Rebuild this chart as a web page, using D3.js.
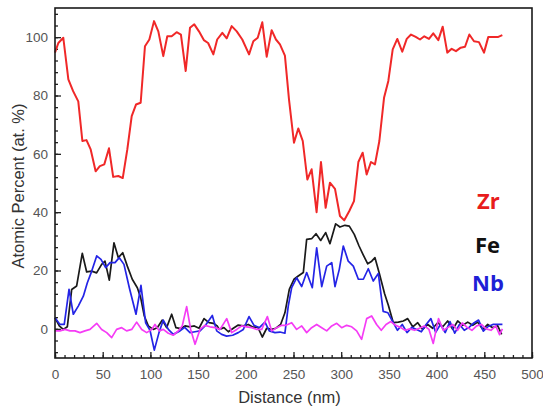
<!DOCTYPE html>
<html>
<head>
<meta charset="utf-8">
<script src="https://cdn.jsdelivr.net/npm/d3@7"></script>
<style>
  body { margin: 0; background: #fff; }
  svg { display: block; }
</style>
</head>
<body>
<div id="chart"></div>
<script>
// values (distance in nm, atomic percent)
var zrDist = [0,3.5,8.7,14,19,24.4,28.7,33,37.4,42.6,47,51.7,56.6,61,66.4,71,75.8,80.4,84.9,89.8,94.3,98.9,103.8,108.3,113.5,117.7,122.3,127.5,132,137,141.5,146,150.9,156,160.5,166,170,175.4,180,185.2,190.5,196.3,203.4,207.9,212.5,217.3,221.9,227.1,231.6,235.8,241,245.3,250.5,255,259.7,264.5,269,274.2,278.8,283.7,288.2,293.5,298.7,303.2,308.5,313.4,318,322.5,326.7,331.2,335.4,340,344.9,349.4,354,358.8,364,368.7,373.2,378.1,382.6,387.1,392,396.5,401.8,406.4,411.2,415.8,420.3,425.3,429.8,434.3,439.2,444.4,449.7,454.2,459.5,464.7,468.9];
var zrVal = [94.7,98,99.8,85.5,81.5,78,64.4,64.7,61.5,54,55.8,56.4,61.9,52.1,52.4,51.7,61.5,72.9,76.9,77.5,96.9,99.2,105.5,102,93.5,100.3,100.3,101.7,100.9,88.4,103.2,104.4,102,99,98,94.1,99.2,101.5,99.6,103.8,102,99.2,94.1,98.6,99.8,105.1,93.3,102.4,99.2,97.5,93.7,78.6,63.8,68.7,64.4,51.2,54.7,40,57.2,41.5,50.1,48,38.7,37.2,40.4,43.8,57.2,60.4,52.9,57.2,56.4,64.4,79.2,85,95.8,99.4,95,99.4,100.9,100.1,99.2,100.3,99.4,101.3,99,103.6,94.7,96,95.2,96.4,96.7,100.9,98.6,98.3,94.7,100.1,100.1,100.1,100.7];

var feDist = [0,4.5,8.7,12.9,17.5,22.7,28.6,33.2,38.4,43.6,48.9,52.4,56.9,61.8,66.4,71,75.8,81,86.3,89.8,93.6,97.8,103,107.2,112.5,117,122.3,126.8,131.7,136.3,141.5,146,151,156.2,161.4,166,170,172.2,177.1,181.7,186.9,192.1,197.4,202.6,207.2,212.5,217.3,221.9,227.1,231.6,236.5,241,245.6,250.5,255,260.3,263.8,269,273.6,278.5,283.7,288.2,294.2,298.7,303.9,308.5,313.7,318.7,323.2,327.8,332,335.4,340,345.5,349.5,354.6,359.9,365.1,369.7,375,380.2,385.4,390.7,395.9,401.2,406.4,411.6,416.9,422.1,427.4,432.6,437.9,443.1,448.4,453.6,458.8,464.1,468.2];
var feVal = [3.8,1,-0.2,0.7,13.5,14.7,25.9,19.5,19.8,19.2,22.1,23.2,16.7,29.5,24.4,26.1,21.5,17,14.1,10.7,4.4,1,-0.2,0.4,3,0.4,5,0.4,0.1,1,0.7,1,0.2,3.5,2.1,1.9,1,-0.2,0.4,-1,0.2,1.3,1,1.5,0.6,0.6,-2.8,0.2,-0.2,0.2,1.5,5.5,13.5,17,18.1,19.3,30.7,30.9,32.6,30.3,33,29.2,36,34.9,35.5,35.2,32.4,28.4,25.3,22.3,23.2,24.4,19,12,8,2.1,2.3,2.7,3.5,0.7,2.1,-0.2,1.5,0.2,2.1,0.7,2.7,-0.2,2.7,1.2,2.3,1.2,2.3,-0.2,1.5,0.4,1,-1.9];

var nbDist = [0,5.2,9.7,14.7,19.2,24.4,29.7,33.9,38.5,43.7,48.2,53.1,57.7,62.9,67.4,72.3,77.9,84.9,90.1,95,99.6,104.1,109,113.5,118.8,124,131,136,141.5,146.8,152,157.2,164.9,169.5,174.7,179.9,186.2,192.1,197.4,203.4,208.6,214.2,220.1,224.6,230.6,235.8,241,244.5,248.1,253.3,258.6,263.8,269.7,274.3,279.6,284.8,290.1,293.5,298,302.2,307.4,312.7,318,323.2,328.4,333.6,338.9,344,349,354,359,364,369,374,379,384,389,394,399,404,409,414,419,424,429,434,439,444,449,454,459,464,469];
var nbVal = [3.8,1.5,1.5,13.5,5,7.8,11.2,15.8,19.8,25,23.8,21,22.7,22.7,24.4,22.1,14.1,5,14.9,2.1,-0.5,-7.3,-1.3,3,-0.2,-1.9,-0.7,0.5,-1.3,-1,-0.7,1,4.6,-0.7,-1.9,-2.5,-2.2,-1.3,-0.2,4.2,1.2,0.4,2.3,-0.7,-1.3,-1.1,-1.5,7.8,14.1,17.5,14.5,19.3,14.1,27.8,14.5,21.5,22.7,14.5,20.4,28.4,23.2,21.5,17,17,20.6,16.4,19,6,5.5,2.5,-0.5,1.5,-1.3,0.5,-0.2,-1,1.5,3.5,-1.2,1.5,-1.3,2.5,-1.5,1.5,-0.5,0.5,2,3,-0.8,0.8,1.5,1.5,1.5];

var oDist = [0,5.2,10.5,15.7,21,26.2,31.4,36.7,43.7,48.9,54.2,59.4,64.6,69.9,75.1,80.4,85.6,90.9,96.1,101.4,104.8,109.3,113.5,118.8,124,129.2,133.4,138,142.2,146.8,152,157.2,162.5,167.7,173,180,185.2,190.5,195.7,201,206.2,211.5,216.7,222.6,227.1,232.4,237.6,242.1,248.1,253.3,258.6,263.8,269,274.3,279.6,284.8,290.1,295.3,300.5,305.7,311,316.2,321.4,326.7,331.9,337.1,342,347,352,357,362,367,372,377,382,387,392,396.5,402,407,412,417,422,427,432,437,442,447,452,457,462,466,469];
var oVal = [-0.7,-0.7,-0.2,-0.7,-0.7,-1.3,-0.7,-0.2,1.9,-0.2,-1.3,-3,-0.2,0.4,-0.7,-0.2,2.3,-0.2,-1.3,-0.2,1.5,-0.7,-0.2,-1.5,-2.2,-0.7,1,7.6,-0.2,-5.3,-0.2,1.2,0.7,0.4,-0.2,3.5,-1.3,-0.2,1,0.7,0.4,-0.2,-0.2,4.2,-0.7,0.4,1.2,1.2,2.1,-0.2,1,-1.3,0.4,1.5,0.4,-0.7,1,1.9,0.4,1.2,0.7,-0.7,-3.6,3.5,4.4,1.5,-0.5,1.5,2.5,1.2,0.5,-0.5,0,-0.5,0.2,1,-0.2,-5,3.5,-0.5,0.5,1.5,-0.5,2,0.5,-0.5,1,1.5,0,-0.5,1,-2,0];

var xTicks = [0,50,100,150,200,250,300,350,400,450,500];
var yTicks = [0,20,40,60,80,100];

var margin = {top: 8, right: 11, bottom: 54, left: 55},
    width = 543 - margin.left - margin.right,
    height = 412 - margin.top - margin.bottom;

var svg = d3.select("#chart")
  .append("svg")
    .attr("width", 543)
    .attr("height", 412);

var g = svg.append("g")
    .attr("transform", "translate(" + margin.left + "," + margin.top + ")");

var x = d3.scaleLinear().domain([0, 500]).range([0, width]);
var y = d3.scaleLinear().domain([-10, 110]).range([height, 0]);

// minor ticks
g.append("g")
  .attr("transform", "translate(0," + height + ")")
  .call(d3.axisBottom(x).tickValues(d3.range(0, 501, 10)).tickSize(-3).tickFormat(""))
  .call(function(a) { a.select(".domain").remove(); });
g.append("g")
  .call(d3.axisLeft(y).tickValues(d3.range(-8, 110, 4)).tickSize(-3).tickFormat(""))
  .call(function(a) { a.select(".domain").remove(); });

// major ticks + labels
var xAxis = g.append("g")
  .attr("transform", "translate(0," + height + ")")
  .call(d3.axisBottom(x).tickValues(xTicks).tickSize(-6).tickPadding(11));
var yAxis = g.append("g")
  .call(d3.axisLeft(y).tickValues(yTicks).tickSize(-6).tickPadding(7));

[xAxis, yAxis].forEach(function(a) {
  a.select(".domain").remove();
  a.selectAll("text")
    .attr("font-family", "Liberation Sans, Arial, sans-serif")
    .attr("font-size", 13.5)
    .attr("fill", "#555");
});
g.selectAll(".tick line").attr("stroke", "#222").attr("stroke-width", 1.3);

function drawSeries(dist, vals, color, w) {
  var pts = dist.map(function(d, i) { return [d, vals[i]]; });
  g.append("path")
    .datum(pts)
    .attr("fill", "none")
    .attr("stroke", color)
    .attr("stroke-width", w)
    .attr("stroke-linejoin", "round")
    .attr("d", d3.line().x(function(p) { return x(p[0]); }).y(function(p) { return y(p[1]); }));
}

drawSeries(zrDist, zrVal, "#f02828", 2);
drawSeries(feDist, feVal, "#1a1a1a", 1.7);
drawSeries(nbDist, nbVal, "#2424e6", 1.7);
drawSeries(oDist, oVal, "#f53cf5", 1.7);

// frame
g.append("rect")
  .attr("width", width)
  .attr("height", height)
  .attr("fill", "none")
  .attr("stroke", "#1a1a1a")
  .attr("stroke-width", 1.6);

// element labels
var labels = [
  {t: "Zr", c: "#e81c1c", x: 477, y: 209},
  {t: "Fe", c: "#111", x: 475, y: 253},
  {t: "Nb", c: "#1f1fd6", x: 472, y: 291}
];
svg.selectAll(".elem")
  .data(labels)
  .join("text")
    .attr("class", "elem")
    .attr("x", function(d) { return d.x; })
    .attr("y", function(d) { return d.y; })
    .attr("fill", function(d) { return d.c; })
    .attr("font-family", "Open Sans, Liberation Sans, sans-serif")
    .attr("font-weight", "bold")
    .attr("font-size", 22)
    .text(function(d) { return d.t; });

// axis titles
svg.append("text")
  .attr("x", margin.left + width / 2 - 4)
  .attr("y", 403)
  .attr("text-anchor", "middle")
  .attr("font-family", "Liberation Sans, Arial, sans-serif")
  .attr("font-size", 16.5)
  .attr("fill", "#333")
  .text("Distance (nm)");

svg.append("text")
  .attr("transform", "translate(24," + 186 + ") rotate(-90)")
  .attr("text-anchor", "middle")
  .attr("font-family", "Liberation Sans, Arial, sans-serif")
  .attr("font-size", 16.5)
  .attr("fill", "#333")
  .text("Atomic Percent (at. %)");
</script>
</body>
</html>
